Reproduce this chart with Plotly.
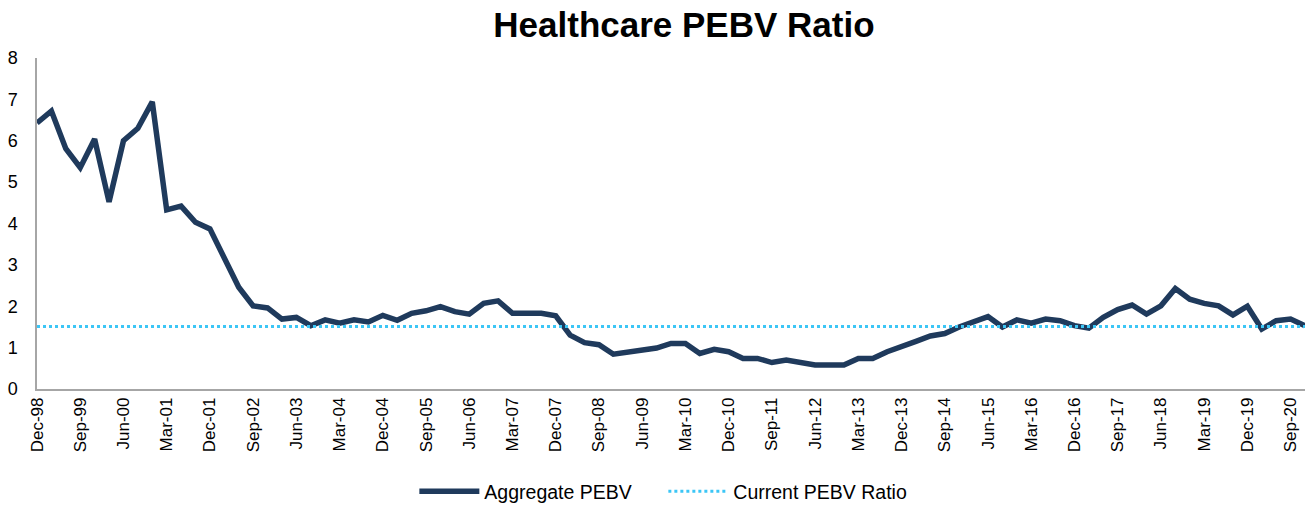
import plotly.graph_objects as go

months = ["Mar", "Jun", "Sep", "Dec"]
dates = ["Dec-98"]
for yr in range(1999, 2021):
    for m in months:
        dates.append(f"{m}-{yr % 100:02d}")

aggregate_pebv = [
    6.43, 6.72, 5.81, 5.35, 6.04, 4.52, 6.00, 6.30, 6.94, 4.33,
    4.42, 4.03, 3.87, 3.18, 2.46, 2.01, 1.96, 1.69, 1.73, 1.53,
    1.67, 1.59, 1.67, 1.62, 1.78, 1.66, 1.83, 1.89, 1.99, 1.87,
    1.81, 2.07, 2.13, 1.83, 1.83, 1.83, 1.77, 1.30, 1.12, 1.07,
    0.84, 0.90, 0.96, 0.99, 1.10, 1.10, 0.86, 0.96, 0.90, 0.74,
    0.74, 0.64, 0.70, 0.64, 0.58, 0.58, 0.58, 0.74, 0.74, 0.90,
    1.04, 1.15, 1.28, 1.34, 1.50, 1.62, 1.75, 1.50, 1.67, 1.59,
    1.69, 1.65, 1.53, 1.47, 1.73, 1.92, 2.03, 1.81, 2.01, 2.43,
    2.17, 2.07, 2.01, 1.79, 2.00, 1.45, 1.65, 1.69, 1.53,
]
current_pebv = 1.51
tick_labels = dates[::3]
y_ticks = [0, 1, 2, 3, 4, 5, 6, 7, 8]

font_family = "Liberation Sans, Arial, sans-serif"

fig = go.Figure()
fig.add_trace(go.Scatter(
    x=dates, y=aggregate_pebv, mode="lines", name="Aggregate PEBV",
    line=dict(color="#1F3A5C", width=5.5),
))
fig.add_trace(go.Scatter(
    x=dates, y=[current_pebv] * len(dates), mode="lines", name="Current PEBV Ratio",
    line=dict(color="#3CC6F6", width=3, dash="dot"),
))

fig.update_layout(
    width=1309, height=506,
    paper_bgcolor="white", plot_bgcolor="white",
    margin=dict(l=37, r=4, t=58, b=117, autoexpand=False),
    font=dict(family=font_family, color="#000000"),
    title=dict(text="<b>Healthcare PEBV Ratio</b>", x=0.5225, xanchor="center",
               y=0.952, yanchor="middle", font=dict(size=35, family=font_family)),
    showlegend=True,
    legend=dict(orientation="h", x=0.2976, xanchor="left", y=-0.31, yanchor="middle",
                font=dict(size=19.5, family=font_family), itemwidth=60,
                entrywidth=174, entrywidthmode="pixels",
                traceorder="normal"),
    xaxis=dict(
        type="category", range=[0, len(dates) - 1],
        tickmode="array", tickvals=tick_labels, ticktext=tick_labels,
        tickangle=-90, tickfont=dict(size=17), showgrid=False,
        showline=True, linecolor="#A6A6A6", linewidth=1.5, ticks="",
        zeroline=False, automargin=False,
    ),
    yaxis=dict(
        range=[0, 8], tickvals=y_ticks, tickfont=dict(size=18), showgrid=False,
        showline=True, linecolor="#A6A6A6", linewidth=1.5, ticks="",
        zeroline=False, ticklabelstandoff=14, automargin=False,
    ),
)

fig.write_html("out.html", config={"displayModeBar": False},
               post_script="document.body.style.margin='0';")
